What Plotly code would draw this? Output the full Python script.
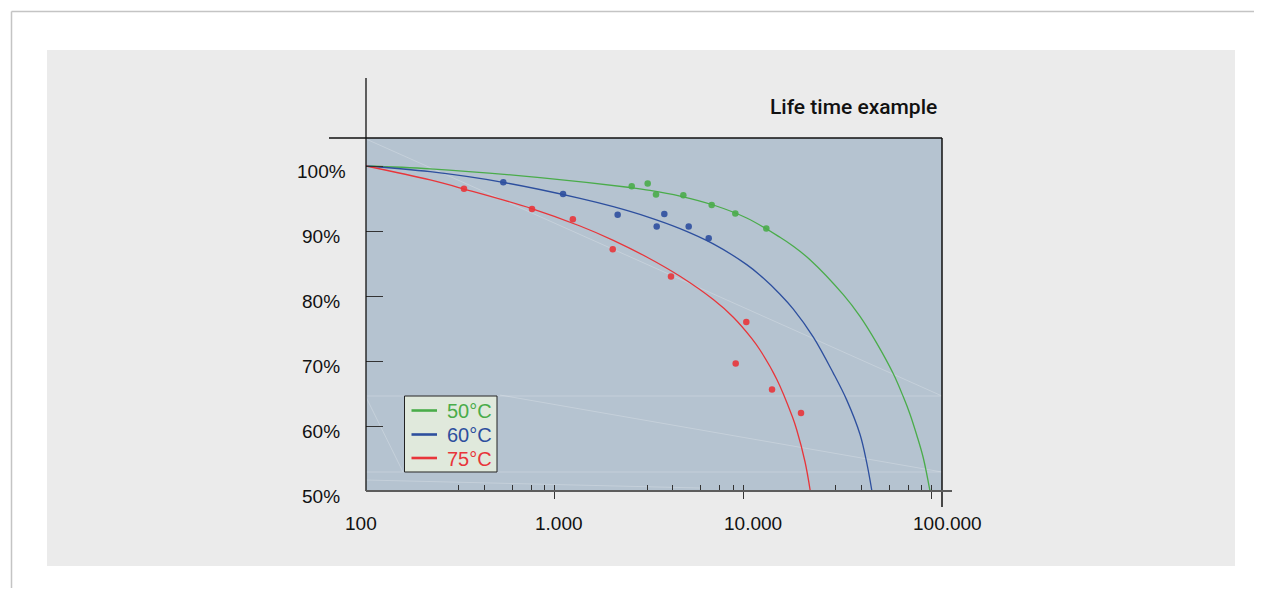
import numpy as np
import plotly.graph_objects as go

# ---------------- data ----------------
series_names = ["50°C", "60°C", "75°C"]
series_colors = ["#4aac4a", "#2d4f9e", "#e8353a"]

# fitted curves
curve_x_50 = [100, 219, 838, 2515, 3212, 4633, 6956, 10462, 15713, 18490, 22670, 34040, 41760, 51210, 62720, 70860, 76910, 83470, 90480, 98170]
curve_y_50 = [100.0, 99.57, 98.22, 96.69, 96.26, 95.38, 94.0, 92.0, 89.03, 87.65, 85.58, 80.2, 76.86, 72.75, 68.03, 64.49, 61.82, 58.62, 55.08, 50.0]
curve_x_60 = [100, 219, 533, 1366, 2051, 3084, 4633, 6956, 10462, 12310, 15713, 18490, 23610, 30130, 35480, 41780, 45290, 48300]
curve_y_60 = [100.0, 99.12, 97.49, 95.03, 93.75, 92.22, 90.37, 88.02, 84.83, 83.2, 80.28, 77.98, 73.68, 68.14, 64.02, 58.69, 54.4, 50.0]
curve_x_75 = [100, 219, 331, 757, 1366, 2051, 3084, 4633, 6956, 8883, 11120, 12310, 15100, 18260, 19270, 21330, 22750]
curve_y_75 = [100.0, 97.85, 96.46, 93.45, 90.77, 88.57, 86.0, 83.03, 79.45, 76.74, 73.48, 71.69, 67.2, 61.45, 59.42, 54.5, 50.0]

# measured points
pts_x_50 = [2568, 3122, 3455, 4824, 6823, 9102, 13295]
pts_y_50 = [96.9, 97.3, 95.6, 95.5, 94.0, 92.7, 90.4]
pts_x_60 = [535, 1110, 2163, 3485, 3824, 5152, 6577]
pts_y_60 = [97.5, 95.7, 92.5, 90.7, 92.6, 90.7, 88.9]
pts_x_75 = [331, 760, 1251, 2037, 4150, 9146, 10411, 14256, 20314]
pts_y_75 = [96.5, 93.4, 91.8, 87.2, 83.0, 69.6, 76.0, 65.6, 62.0]

x_tick_vals = [100, 1000, 10000, 100000]
x_tick_text = ["100", "1.000", "10.000", "100.000"]
x_minor_mult = [3.1, 4.25, 5.95, 7.55, 8.9]
y_tick_vals = [50, 60, 70, 80, 90, 100]
y_tick_text = ["50%", "60%", "70%", "80%", "90%", "100%"]
title_text = "Life time example"

# ---------------- layout geometry (screen px) ----------------
OFF = 8                      # default page body margin
FW, FH = 1262 - OFF, 596 - 2 * OFF
L, R, T, B = 366, 942, 138, 491
DECADE = 188.5
PX_PER_PCT = 6.5
x_range = [2, 2 + (R - L) / DECADE]
y_range = [50, 50 + (B - T) / PX_PER_PCT]
x_label_shift = [-5, 4, 10, 16]
FONT = "Liberation Sans, Arial, sans-serif"


def px(x):
    return (x - L) / (R - L)


def py(y):
    return (B - y) / (B - T)


curves = [(curve_x_50, curve_y_50), (curve_x_60, curve_y_60), (curve_x_75, curve_y_75)]
points = [(pts_x_50, pts_y_50), (pts_x_60, pts_y_60), (pts_x_75, pts_y_75)]

fig = go.Figure()
for (cx, cy), (mx, my), name, col in zip(curves, points, series_names, series_colors):
    fig.add_trace(go.Scatter(x=cx, y=cy, mode="lines", name=name,
                             line=dict(color=col, width=1.3, shape="spline", smoothing=1.0),
                             showlegend=False, hoverinfo="skip"))
    fig.add_trace(go.Scatter(x=mx, y=my, mode="markers", name=name,
                             marker=dict(color=col, size=6.5, opacity=0.9, line=dict(width=0)),
                             showlegend=False))

# invisible trace on overlay axis (for inside x ticks)
fig.add_trace(go.Scatter(x=[1000], y=[75], xaxis="x2", mode="markers",
                         marker=dict(opacity=0), showlegend=False, hoverinfo="skip"))

minor_vals = []
for d in [100, 1000, 10000]:
    minor_vals += [d * m for m in x_minor_mult]
inside_vals = minor_vals + x_tick_vals[1:]

shapes = []
# outer border lines
shapes.append(dict(type="line", xref="paper", yref="paper", x0=px(11.5), x1=px(1262), y0=py(11.5), y1=py(11.5),
                   line=dict(color="#c4c4c4", width=1.5), layer="below"))
shapes.append(dict(type="line", xref="paper", yref="paper", x0=px(11.5), x1=px(11.5), y0=py(11.5), y1=py(600),
                   line=dict(color="#c4c4c4", width=1.5), layer="below"))
# gray panel
shapes.append(dict(type="rect", xref="paper", yref="paper", x0=px(47), x1=px(1235), y0=py(566), y1=py(50),
                   fillcolor="#ebebeb", line=dict(width=0), layer="below"))
# plot area fill
shapes.append(dict(type="rect", xref="paper", yref="paper", x0=0, x1=1, y0=0, y1=1,
                   fillcolor="#b5c3d0", line=dict(width=0), layer="below"))
# faint artefact lines
faint = "rgba(255,255,255,0.22)"
for (x0, y0, x1, y1) in [(366, 139, 942, 396), (366, 396, 942, 396), (366, 472, 942, 472),
                         (500, 395, 942, 472), (366, 397, 403, 472), (366, 480, 700, 488)]:
    shapes.append(dict(type="line", xref="paper", yref="paper", x0=px(x0), x1=px(x1), y0=py(y0), y1=py(y1),
                       line=dict(color=faint, width=1), layer="below"))
# axis frame lines
shapes.append(dict(type="line", xref="paper", yref="paper", x0=0, x1=0, y0=0, y1=py(78),
                   line=dict(color="#111", width=1.3), layer="above"))
shapes.append(dict(type="line", xref="paper", yref="paper", x0=px(329), x1=1, y0=1, y1=1,
                   line=dict(color="#111", width=1.5), layer="above"))
shapes.append(dict(type="line", xref="paper", yref="paper", x0=1, x1=1, y0=py(507), y1=1,
                   line=dict(color="#111", width=1.5), layer="above"))
shapes.append(dict(type="line", xref="paper", yref="paper", x0=0, x1=px(952), y0=0, y1=0,
                   line=dict(color="#5c5c5c", width=2), layer="above"))
# legend box
shapes.append(dict(type="rect", xref="paper", yref="paper", x0=px(404.5), x1=px(497), y0=py(472), y1=py(396),
                   fillcolor="#e0e9dc", line=dict(color="#222", width=1), layer="above"))
legend_rows = [410.5, 434.5, 458]
for yy, col in zip(legend_rows, series_colors):
    shapes.append(dict(type="line", xref="paper", yref="paper", x0=px(411.5), x1=px(437), y0=py(yy), y1=py(yy),
                       line=dict(color=col, width=2.6), layer="above"))

annotations = []
for yy, name, col in zip(legend_rows, series_names, series_colors):
    annotations.append(dict(xref="paper", yref="paper", x=px(444.5), y=py(yy + 0.5), xanchor="left", yanchor="middle",
                            text=name, showarrow=False,
                            font=dict(family=FONT, size=20, color=col)))
for v, t, sh in zip(x_tick_vals, x_tick_text, x_label_shift):
    annotations.append(dict(xref="x", yref="paper", x=np.log10(v), y=py(523), xanchor="center", yanchor="middle",
                            xshift=sh, text=t, showarrow=False,
                            font=dict(family=FONT, size=19, color="#111")))
for v, t in zip(y_tick_vals, y_tick_text):
    annotations.append(dict(xref="paper", yref="y", x=px(321), y=v, xanchor="center", yanchor="middle",
                            yshift=-5, text=t, showarrow=False,
                            font=dict(family=FONT, size=19, color="#111")))
annotations.append(dict(xref="paper", yref="paper", x=px(939), y=py(107), xanchor="right", yanchor="middle",
                        text=title_text, showarrow=False,
                        font=dict(family="Roboto, sans-serif", size=21, color="#111", weight=500)))

fig.update_layout(
    width=FW, height=FH,
    margin=dict(l=L - OFF, r=FW - (R - OFF), t=T - OFF, b=FH - (B - OFF), pad=0),
    paper_bgcolor="white",
    plot_bgcolor="rgba(0,0,0,0)",
    showlegend=False,
    shapes=shapes,
    annotations=annotations,
    xaxis=dict(type="log", range=x_range, showgrid=False, zeroline=False, showline=False,
               tickmode="array", tickvals=x_tick_vals[1:], ticks="outside", ticklen=7,
               tickcolor="#333", tickwidth=1.3, showticklabels=False),
    xaxis2=dict(type="log", range=x_range, overlaying="x", anchor="y", side="bottom",
                showgrid=False, zeroline=False, showline=False,
                tickmode="array", tickvals=inside_vals, ticks="inside", ticklen=6,
                tickcolor="#333", tickwidth=1.1, showticklabels=False),
    yaxis=dict(range=y_range, showgrid=False, zeroline=False, showline=False,
               tickmode="array", tickvals=y_tick_vals, ticks="inside", ticklen=17,
               tickcolor="#333", tickwidth=1.2, showticklabels=False),
)

fig.write_html("out.html")
